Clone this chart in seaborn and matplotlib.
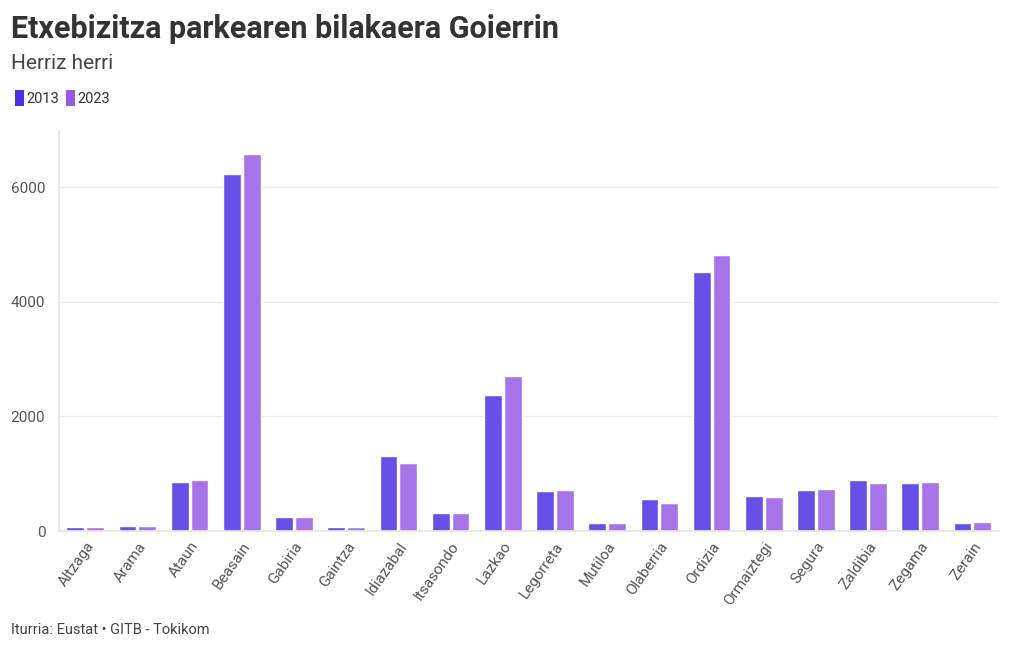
import numpy as np
import pandas as pd
import matplotlib
matplotlib.use("Agg")
import matplotlib.pyplot as plt
from matplotlib.patches import Patch
import seaborn as sns

# Data
herriak = ["Altzaga", "Arama", "Ataun", "Beasain", "Gabiria", "Gaintza", "Idiazabal",
           "Itsasondo", "Lazkao", "Legorreta", "Mutiloa", "Olaberria", "Ordizia",
           "Ormaiztegi", "Segura", "Zaldibia", "Zegama", "Zerain"]
urteak = ["2013", "2023"]
balioak_2013 = [70, 80, 849, 6226, 239, 70, 1313, 314, 2366, 703, 145, 558, 4517, 610, 720, 889, 837, 145]
balioak_2023 = [62, 80, 884, 6580, 250, 70, 1186, 320, 2698, 715, 145, 488, 4814, 593, 732, 843, 855, 160]
y_ticks = [0, 2000, 4000, 6000]

kolore_bar = {"2013": "#6650E8", "2023": "#A674E8"}
kolore_legend = {"2013": "#4F2EE0", "2023": "#9B59E0"}

df = pd.DataFrame({
    "herria": herriak * 2,
    "urtea": ["2013"] * len(herriak) + ["2023"] * len(herriak),
    "etxebizitzak": balioak_2013 + balioak_2023,
})

sns.set_theme(style="white")
plt.rcParams["font.family"] = ["Roboto", "DejaVu Sans"]

fig = plt.figure(figsize=(10.2, 6.5), dpi=100)
ax = fig.add_axes([0.058, 0.183, 0.921, 0.617])

sns.barplot(data=df, x="herria", y="etxebizitzak", hue="urtea", order=herriak,
            hue_order=urteak, palette=kolore_bar, width=0.76, gap=0.1,
            saturation=1, legend=False, ax=ax)

ax.set_ylim(0, 7000)
ax.set_xlim(-0.5, len(herriak) - 0.5)
ax.set_yticks(y_ticks)
ax.set_yticklabels([str(t) for t in y_ticks], fontsize=11, color="#555555")
ax.yaxis.grid(True, color="#ebebeb", linewidth=0.9)
ax.set_axisbelow(True)
ax.set_xlabel("")
ax.set_ylabel("")
for s in ["top", "right"]:
    ax.spines[s].set_visible(False)
ax.spines["left"].set_color("#e6e6e6")
ax.spines["bottom"].set_color("#e6e6e6")
ax.tick_params(axis="y", length=0, pad=10)
ax.tick_params(axis="x", length=4, color="#dddddd", pad=2)
plt.setp(ax.get_xticklabels(), rotation=55, ha="right", rotation_mode="anchor",
         fontsize=11, color="#555555")

fig.text(0.011, 0.955, "Etxebizitza parkearen bilakaera Goierrin", fontsize=22,
         fontweight="bold", color="#333333", va="center")
fig.text(0.011, 0.903, "Herriz herri", fontsize=15, color="#444444", va="center")
fig.text(0.011, 0.03, "Iturria: Eustat • GITB - Tokikom", fontsize=10.5,
         color="#444444", va="center")

handles = [Patch(facecolor=kolore_legend[u], edgecolor="none", label=u) for u in urteak]
fig.legend(handles=handles, loc="center left", bbox_to_anchor=(0.002, 0.849),
           ncol=2, frameon=False, fontsize=10.5, handlelength=0.6, handleheight=1.3,
           handletextpad=0.15, columnspacing=0.5, labelcolor="#333333")

fig.savefig("out.png", dpi=100)
